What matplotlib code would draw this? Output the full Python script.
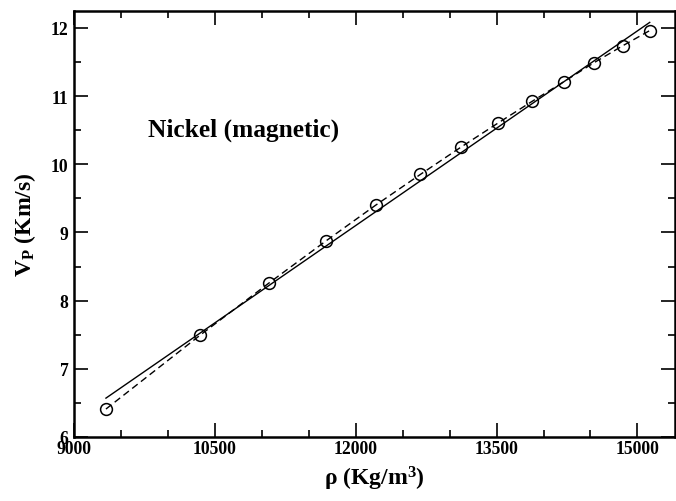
import numpy as np
import matplotlib
matplotlib.use("Agg")
import matplotlib.pyplot as plt
from matplotlib.ticker import MultipleLocator

plt.rcParams['font.family'] = 'Liberation Serif'
plt.rcParams['font.weight'] = 'bold'
plt.rcParams['axes.labelweight'] = 'bold'
plt.rcParams['mathtext.fontset'] = 'custom'
plt.rcParams['mathtext.rm'] = 'Liberation Serif'
plt.rcParams['mathtext.bf'] = 'Liberation Serif:bold'

# density (kg/m^3) and P-wave velocity (km/s)
rho = [9340, 10340, 11078, 11688, 12213, 12688, 13120, 13511, 13876, 14216, 14539, 14847, 15131]
vp = [6.41, 7.49, 8.26, 8.88, 9.40, 9.85, 10.25, 10.60, 10.92, 11.21, 11.49, 11.74, 11.96]

# straight-line fit (end points)
fit_rho = [9340, 15131]
fit_vp = [6.57, 12.08]

fig = plt.figure(figsize=(6.76, 5.02), dpi=100)
ax = fig.add_axes([0.1095, 0.1275, 0.889, 0.849])

ax.plot(fit_rho, fit_vp, '-', color='black', lw=1.0)
ax.plot(rho, vp, '--', color='black', lw=1.0, dashes=(5, 3))
ax.plot(rho, vp, 'o', ms=8.5, mfc='none', mec='black', mew=1.1)

ax.set_xlim(9000, 15400)
ax.set_ylim(6, 12.25)
ax.xaxis.set_major_locator(MultipleLocator(1500))
ax.xaxis.set_minor_locator(MultipleLocator(500))
ax.yaxis.set_major_locator(MultipleLocator(1))
ax.yaxis.set_minor_locator(MultipleLocator(0.5))
ax.tick_params(which='both', direction='in', top=True, right=True, labelsize=12.7, width=1.2)
ax.tick_params(which='major', length=10)
ax.tick_params(which='minor', length=5)
ax.tick_params(axis='x', pad=2)
ax.tick_params(axis='y', pad=4)
for lab in ax.get_xticklabels() + ax.get_yticklabels():
    lab.set_fontweight('bold')
for sp in ax.spines.values():
    sp.set_linewidth(1.8)

ax.set_xlabel(r'$\mathrm{\rho}$ $\mathbf{(Kg/m^3)}$', fontsize=17, labelpad=5)
ax.set_ylabel(r'$\mathbf{V_P}$ (Km/s)', fontsize=17, labelpad=9)

ax.text(0.123, 0.723, 'Nickel (magnetic)', transform=ax.transAxes,
        fontsize=18.3, fontweight='bold', va='center', ha='left')

fig.savefig('out.png', dpi=100)
